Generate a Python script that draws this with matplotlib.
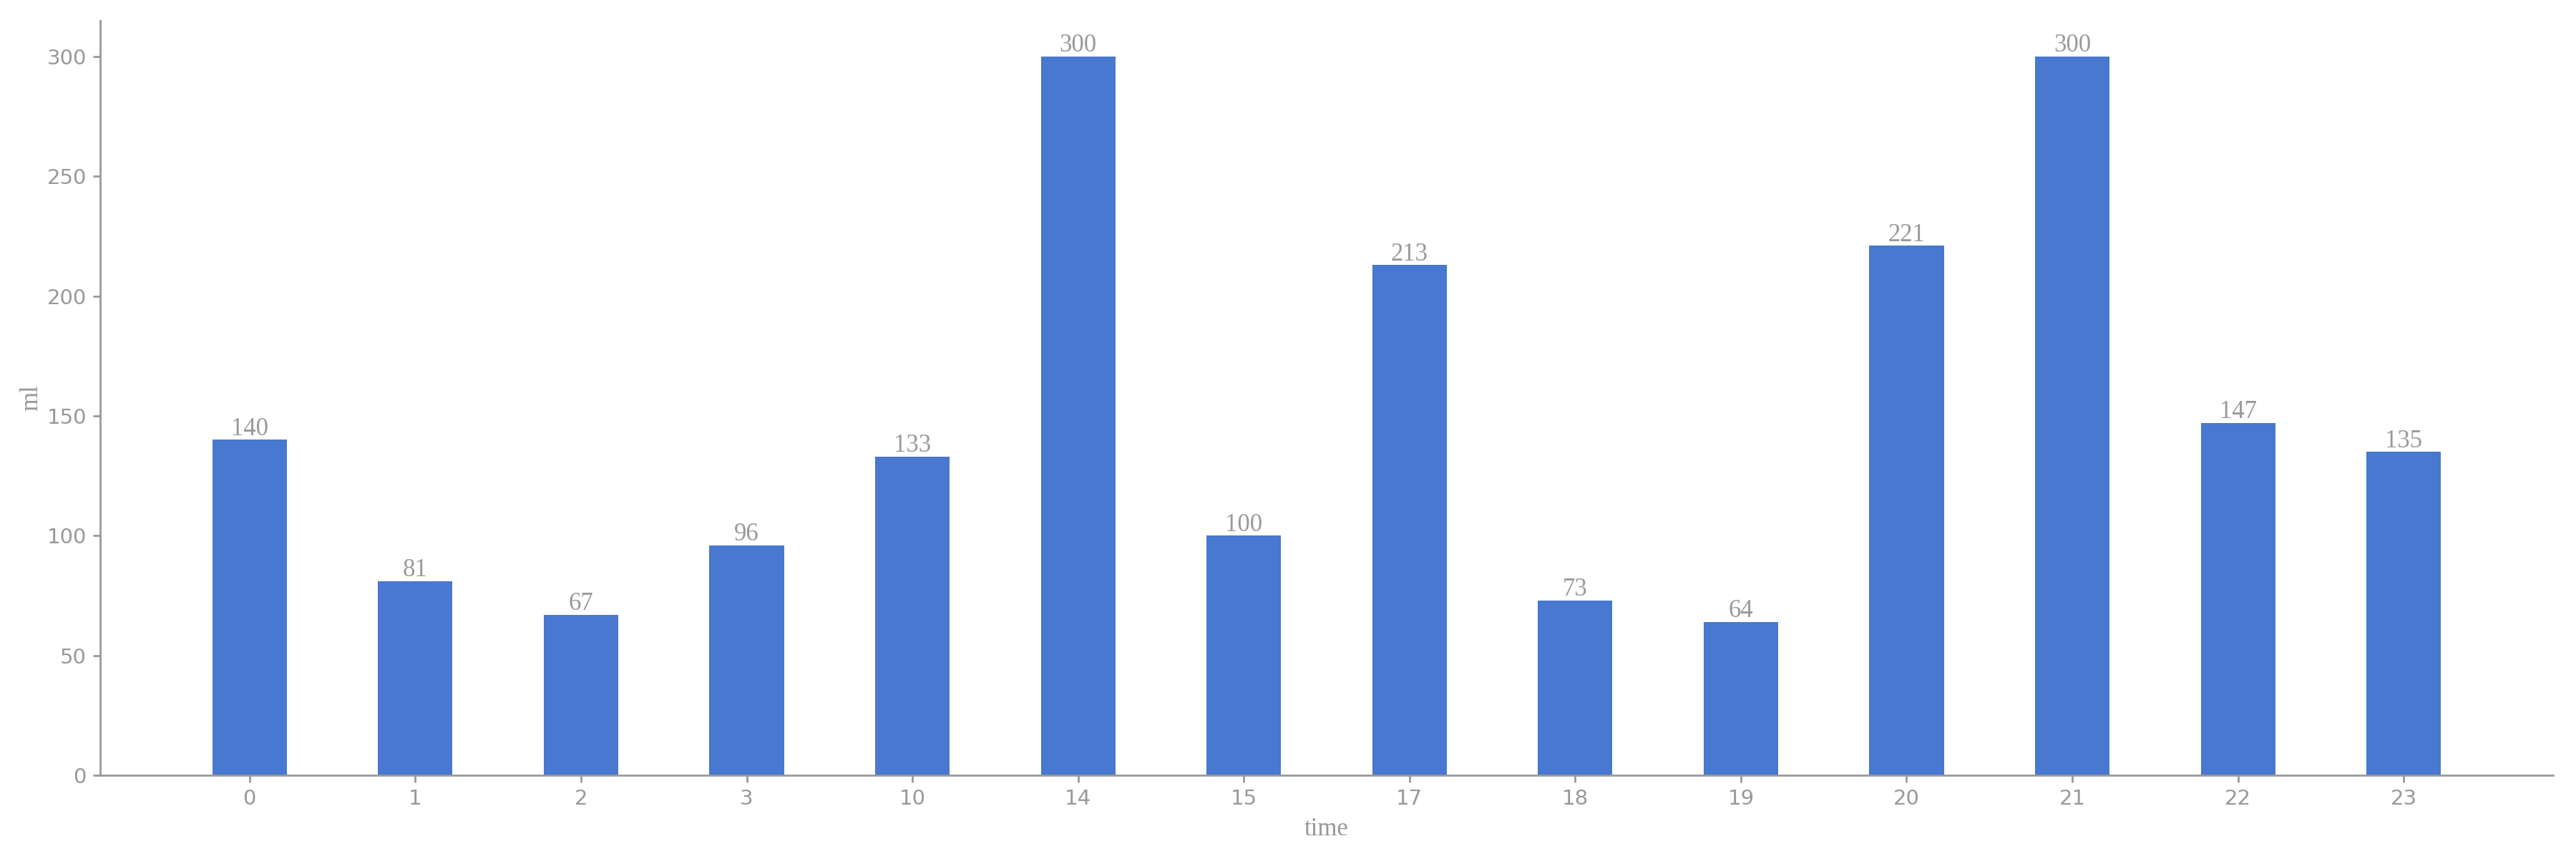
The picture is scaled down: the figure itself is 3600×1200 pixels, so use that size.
import matplotlib.pyplot as plt
import numpy as np

times = ["0", "1", "2", "3", "10", "14", "15", "17", "18", "19", "20", "21", "22", "23"]
ml = [140, 81, 67, 96, 133, 300, 100, 213, 73, 64, 221, 300, 147, 135]

grey = "#999999"
serif = ["Liberation Serif", "DejaVu Serif"]

fig, ax = plt.subplots(figsize=(18, 6), dpi=200)
x = np.arange(len(times))
bars = ax.bar(x, ml, width=0.45, color="#4878CF")

for xi, v in zip(x, ml):
    ax.annotate(str(v), (xi, v), xytext=(0, -0.5), textcoords="offset points",
                ha="center", va="bottom", color=grey, fontsize=12.5, family=serif)

ax.set_xticks(x)
ax.set_xticklabels(times)
ax.set_xlim(-0.9, 13.9)
ax.set_ylim(0, 315)
ax.set_xlabel("time", color=grey, fontsize=12.5, family=serif, labelpad=4)
ax.set_ylabel("ml", color=grey, fontsize=12.5, family=serif, labelpad=2)

for side in ["top", "right"]:
    ax.spines[side].set_visible(False)
for side in ["left", "bottom"]:
    ax.spines[side].set_color(grey)
    ax.spines[side].set_linewidth(1.0)
ax.tick_params(colors=grey, labelcolor=grey, labelsize=10.5, width=1.0)

fig.subplots_adjust(left=0.039, right=0.991, bottom=0.0975, top=0.976)
fig.savefig("out.png")
